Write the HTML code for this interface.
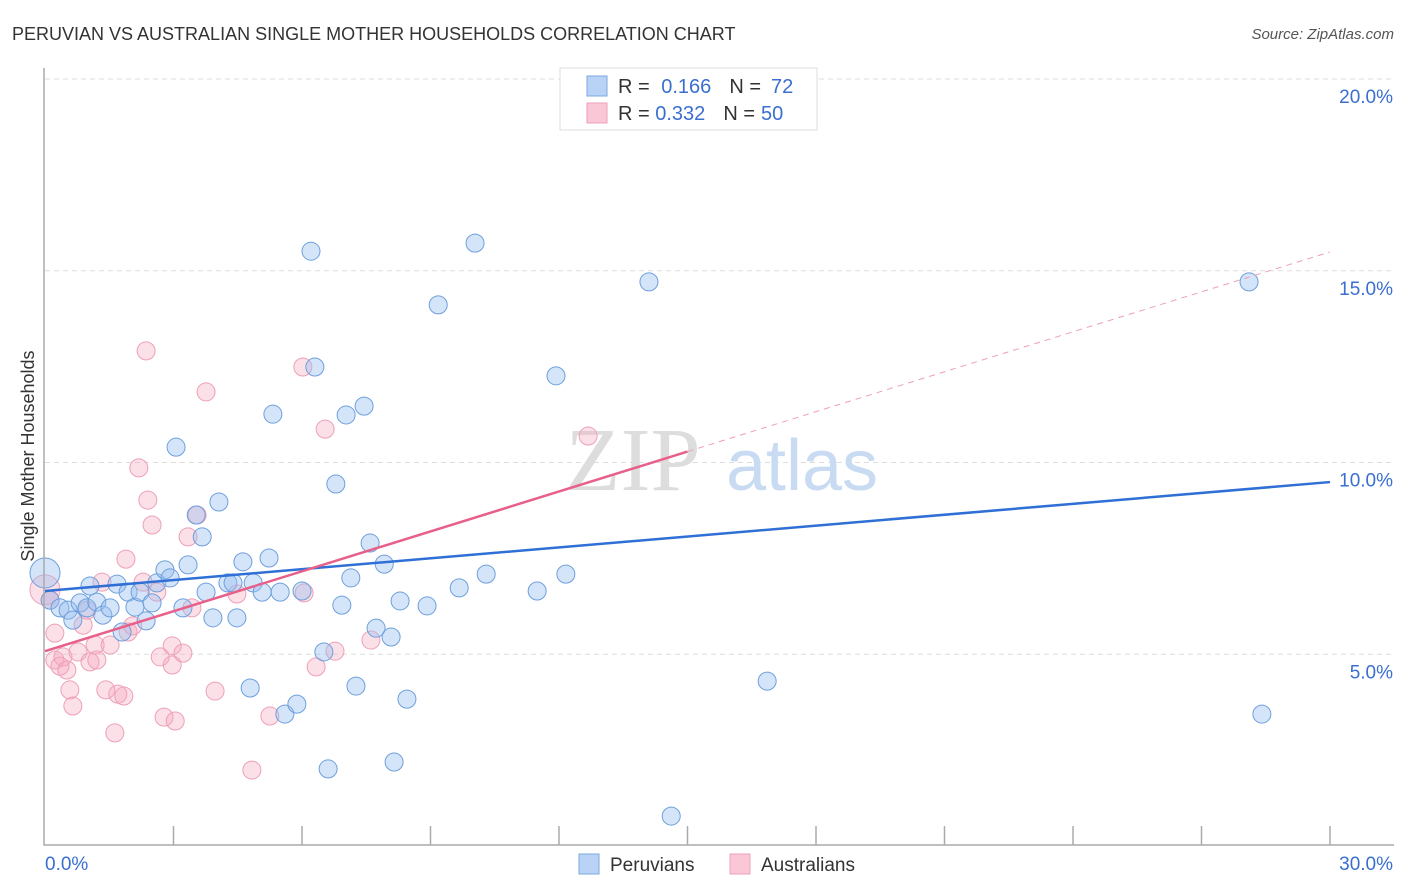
<!DOCTYPE html>
<html><head><meta charset="utf-8"><style>
body{margin:0;background:#fff;font-family:"Liberation Sans",sans-serif}
svg{display:block}
</style></head><body>
<svg id="chart" width="1406" height="892" xmlns="http://www.w3.org/2000/svg">
<text x="12" y="40" font-size="18" fill="#333">PERUVIAN VS AUSTRALIAN SINGLE MOTHER HOUSEHOLDS CORRELATION CHART</text>
<text x="1394" y="39" font-size="15" fill="#555" font-style="italic" text-anchor="end">Source: ZipAtlas.com</text>
<text x="34" y="456" font-size="18" fill="#333" text-anchor="middle" transform="rotate(-90 34 456)">Single Mother Households</text>
<g id="grid"></g>
<g><text x="633" y="490" font-size="90" font-family="Liberation Serif,serif" fill="#ddd" text-anchor="middle">ZIP</text><text x="802" y="490" font-size="72" fill="#c8dbf2" text-anchor="middle">atlas</text></g>
<g id="points"></g>
<g id="lines"></g>
<g id="axes"></g>
<g>
<rect x="560" y="68" width="257" height="62" fill="#fff" stroke="#ddd"/>
<rect x="587" y="76" width="20" height="20" fill="#b8d3f5" stroke="#7aa8e0"/>
<rect x="587" y="103" width="20" height="20" fill="#f9c7d6" stroke="#eda0b8"/>
<text x="618" y="93" font-size="20" fill="#333">R = <tspan fill="#3a6fd0" dx="6">0.166</tspan><tspan dx="18" fill="#333">N =</tspan><tspan dx="10" fill="#3a6fd0">72</tspan></text>
<text x="618" y="120" font-size="20" fill="#333">R = <tspan fill="#3a6fd0">0.332</tspan><tspan dx="18" fill="#333">N =</tspan><tspan dx="6" fill="#3a6fd0">50</tspan></text>
</g>
<g>
<rect x="579" y="854" width="20" height="20" fill="#b8d3f5" stroke="#7aa8e0"/>
<text x="610" y="871" font-size="19" fill="#333">Peruvians</text>
<rect x="730" y="854" width="20" height="20" fill="#f9c7d6" stroke="#eda0b8"/>
<text x="761" y="871" font-size="19" fill="#333">Australians</text>
</g>
</svg>
<script>
const yTicks=[5,10,15,20];
const yTickLabels=["5.0%","10.0%","15.0%","20.0%"];
const xTickLabels=["0.0%","30.0%"];
const peruX=[0,0.12,0.35,0.54,0.65,0.82,0.98,1.05,1.21,1.35,1.52,1.68,1.80,1.94,2.10,2.22,2.36,2.50,2.61,2.80,2.92,3.22,3.34,3.53,3.67,3.76,3.92,4.06,3.06,4.27,4.39,4.48,4.62,4.79,4.86,5.07,5.23,5.32,5.49,5.60,5.88,6.00,6.21,6.30,6.51,6.61,6.79,6.93,7.03,7.14,7.26,7.45,7.59,7.73,7.92,8.08,8.15,8.29,8.45,8.92,9.18,9.67,10.04,10.30,11.49,11.93,12.16,14.10,14.62,16.86,28.11,28.41];
const peruY=[7.12,6.41,6.21,6.15,5.89,6.34,6.21,6.78,6.36,6.02,6.21,6.83,5.58,6.62,6.23,6.62,5.87,6.34,6.86,7.20,6.99,6.21,7.33,8.63,8.06,6.62,5.95,8.97,10.40,6.86,6.86,5.95,7.41,4.12,6.86,6.62,7.51,11.26,6.62,3.44,3.70,6.65,15.51,12.49,5.06,2.01,9.44,6.28,11.24,6.99,4.17,11.47,7.90,5.68,7.35,5.45,2.19,6.39,3.83,6.26,14.11,6.73,15.72,7.09,6.65,12.26,7.09,14.71,0.78,4.30,14.71,3.44];
const ausX=[0,0.12,0.23,0.23,0.35,0.42,0.51,0.58,0.65,0.77,0.89,0.98,1.05,1.17,1.21,1.33,1.42,1.52,1.63,1.70,1.84,1.89,1.94,2.05,2.19,2.29,2.40,2.36,2.50,2.61,2.69,2.78,2.97,3.04,2.97,3.22,3.34,3.43,3.55,3.76,3.97,4.48,4.83,5.25,6.02,6.05,6.33,6.54,6.77,7.61,12.68];
const ausY=[6.68,6.41,5.55,4.85,4.69,4.93,4.59,4.07,3.65,5.06,5.76,6.15,4.80,5.24,4.85,6.88,4.07,5.24,2.95,3.96,3.91,7.48,5.58,5.74,9.86,6.88,9.02,12.91,8.37,6.62,4.93,3.36,4.72,3.26,5.22,5.03,8.06,6.21,8.63,11.84,4.04,6.57,1.98,3.39,12.49,6.60,4.67,10.87,5.08,5.37,10.69];
const peruTrend=[6.65,9.49];
const ausTrend=[5.08,15.49];
const ausSolidEnd=15;
const NS="http://www.w3.org/2000/svg";
const X=v=>45+v*(1285/30);
const Y=v=>846-v*38.35;
function mk(t,a,p){const e=document.createElementNS(NS,t);for(const k in a)e.setAttribute(k,a[k]);p.appendChild(e);return e;}
const grid=document.getElementById('grid'),axes=document.getElementById('axes');
yTicks.forEach((t,i)=>{
 const l=mk('line',{x1:45,x2:1394,y1:Y(t),y2:Y(t),stroke:'#ddd','stroke-dasharray':'5,4'},grid);
 
 
 const tx=mk('text',{x:1393,y:Y(t)+24,'font-size':19,fill:'#3a6fd0','text-anchor':'end'},axes);
 tx.textContent=yTickLabels[i];
 
 
});
const ax=mk('path',{d:'M44 68V845H1394',stroke:'#aaa',fill:'none','stroke-width':1.5},axes);


for(let i=1;i<=10;i++){
 const t=mk('line',{x1:X(i*3),x2:X(i*3),y1:826,y2:845,stroke:'#aaa','stroke-width':1.5},axes);
 
 
}
[[0,45,'start'],[30,1393,'end']].forEach((d,i)=>{
 const tx=mk('text',{x:d[1],y:870,'font-size':19,fill:'#3a6fd0','text-anchor':d[2]},axes);
 tx.textContent=xTickLabels[i];
 
 
});
const pts=document.getElementById('points');
function dots(xs,ys,fill,stroke,name){xs.forEach((x,i)=>{
 const c=mk('circle',{cx:X(x),cy:Y(ys[i]),r:i==0?15:9,fill:fill,stroke:stroke,'stroke-width':1},pts);
 
 
});}
dots(ausX,ausY,'rgba(245,165,190,0.35)','#eda0b8','australian-point');
dots(peruX,peruY,'rgba(150,190,240,0.4)','#6e9fdc','peruvian-point');
const lines=document.getElementById('lines');
const bl=mk('line',{x1:X(0),y1:Y(peruTrend[0]),x2:X(30),y2:Y(peruTrend[1]),stroke:'#2f6fd6','stroke-width':2.5},lines);


const ay=x=>ausTrend[0]+(ausTrend[1]-ausTrend[0])*x/30;
const pl=mk('line',{x1:X(0),y1:Y(ay(0)),x2:X(ausSolidEnd),y2:Y(ay(ausSolidEnd)),stroke:'#e8608a','stroke-width':2.5},lines);


const pd=mk('line',{x1:X(ausSolidEnd),y1:Y(ay(ausSolidEnd)),x2:X(30),y2:Y(ay(30)),stroke:'#eda0b8','stroke-width':1,'stroke-dasharray':'6,5'},lines);


</script>
</body></html>
